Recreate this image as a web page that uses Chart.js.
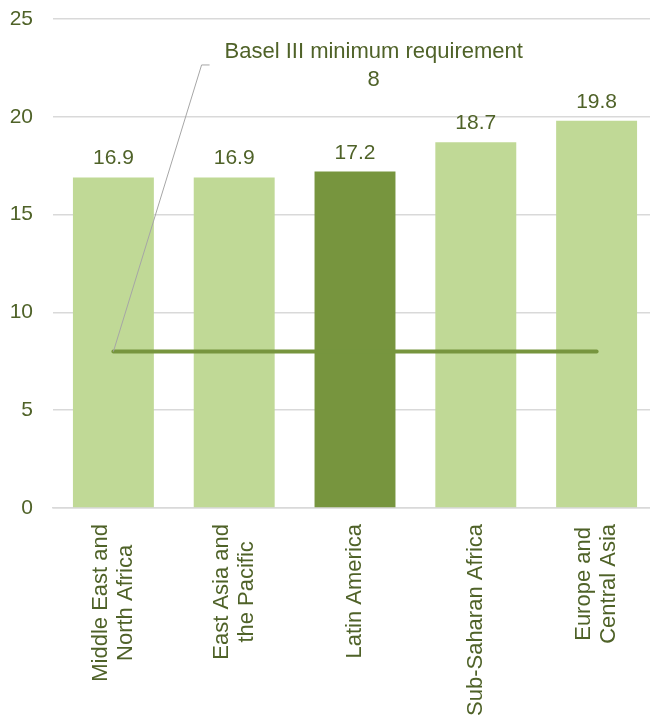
<!DOCTYPE html>
<html>
<head>
<meta charset="utf-8">
<script src="https://cdn.jsdelivr.net/npm/chart.js@4/dist/chart.umd.min.js"></script>
<style>
  html, body { margin: 0; padding: 0; background: #fff; overflow: hidden; }
  #wrap { width: 658px; height: 716px; }
</style>
</head>
<body>
<div id="wrap"><canvas id="chart"></canvas></div>
<script>
const categories = [
  ["Middle East and", "North Africa"],
  ["East Asia and", "the Pacific"],
  ["Latin America"],
  ["Sub-Saharan Africa"],
  ["Europe and", "Central Asia"]
]
const capitalRatios = [16.9, 16.9, 17.2, 18.7, 19.8]
const baselMinimum = [8, 8, 8, 8, 8]
const baselLabel = ["Basel III minimum requirement", "8"]
const highlightIndex = 2

const textColor = "#4f6228"
const lightGreen = "#c0d996"
const darkGreen = "#77953e"
const family = "'Liberation Sans', Arial, sans-serif"

const barLabels = {
  id: "barLabels",
  afterDatasetsDraw(chart) {
    const ctx = chart.ctx
    const meta = chart.getDatasetMeta(1)
    ctx.save()
    ctx.fillStyle = textColor
    ctx.font = `21px ${family}`
    ctx.textAlign = "center"
    ctx.textBaseline = "alphabetic"
    meta.data.forEach((bar, i) => {
      ctx.fillText(capitalRatios[i].toFixed(1), bar.x, bar.y - 13)
    })
    ctx.restore()
  }
}

// rotated category labels, lines centred on each other like the original
const categoryLabels = {
  id: "categoryLabels",
  afterDraw(chart) {
    const ctx = chart.ctx
    const x = chart.scales.x
    const lineHeight = 25
    ctx.save()
    ctx.fillStyle = textColor
    ctx.font = `22px ${family}`
    ctx.textAlign = "center"
    ctx.textBaseline = "middle"
    categories.forEach((lines, i) => {
      const cx = x.getPixelForTick(i)
      const widest = Math.max(...lines.map((l) => ctx.measureText(l).width))
      const top = x.top + 16
      lines.forEach((line, j) => {
        const offset = (j - (lines.length - 1) / 2) * lineHeight
        ctx.save()
        ctx.translate(cx + offset, top + widest / 2)
        ctx.rotate(-Math.PI / 2)
        ctx.fillText(line, 0, 0)
        ctx.restore()
      })
    })
    ctx.restore()
  }
}

const baselCallout = {
  id: "baselCallout",
  afterDatasetsDraw(chart) {
    const ctx = chart.ctx
    const x = chart.scales.x
    const y = chart.scales.y
    const startX = x.getPixelForValue(0)
    const startY = y.getPixelForValue(baselMinimum[0])
    const elbowX = x.getPixelForValue(0.73)
    const elbowY = y.getPixelForValue(22.65)

    ctx.save()
    ctx.strokeStyle = "#a6a6a6"
    ctx.lineWidth = 1
    ctx.beginPath()
    ctx.moveTo(startX, startY)
    ctx.lineTo(elbowX, elbowY)
    ctx.lineTo(elbowX + 8, elbowY)
    ctx.stroke()

    ctx.fillStyle = textColor
    ctx.font = `22px ${family}`
    ctx.textAlign = "center"
    ctx.textBaseline = "middle"
    const textX = x.getPixelForValue(2.155)
    const textY = y.getPixelForValue(23.3)
    ctx.fillText(baselLabel[0], textX, textY)
    ctx.fillText(baselLabel[1], textX, textY + 28)
    ctx.restore()
  }
}

new Chart(document.getElementById("chart"), {
  data: {
    labels: categories,
    datasets: [
      {
        type: "line",
        label: "Basel III minimum requirement",
        data: baselMinimum,
        borderColor: darkGreen,
        borderWidth: 4,
        borderCapStyle: "round",
        pointRadius: 0,
        order: 0
      },
      {
        type: "bar",
        label: "Capital adequacy ratio",
        data: capitalRatios,
        backgroundColor: capitalRatios.map((v, i) => (i === highlightIndex ? darkGreen : lightGreen)),
        categoryPercentage: 1,
        barPercentage: 0.67,
        order: 1
      }
    ]
  },
  options: {
    responsive: true,
    maintainAspectRatio: false,
    animation: false,
    layout: { padding: { top: 19, left: 8, right: 1, bottom: 0 } },
    plugins: {
      legend: { display: false },
      tooltip: { enabled: false }
    },
    scales: {
      x: {
        grid: { display: false, drawTicks: false },
        border: { color: "#d9d9d9", width: 1.5 },
        ticks: { display: false },
        afterFit(scale) {
          scale.height = 208
          scale.paddingLeft = 0
          scale.paddingRight = 0
        }
      },
      y: {
        min: 0,
        max: 25,
        grid: { color: "#d9d9d9", lineWidth: 1.5, drawTicks: false },
        border: { display: false },
        ticks: {
          stepSize: 5,
          color: textColor,
          font: { family, size: 21 },
          padding: 20
        },
        afterFit(scale) {
          scale.width = 45
          scale.paddingTop = 0
          scale.paddingBottom = 0
        }
      }
    }
  },
  plugins: [barLabels, baselCallout, categoryLabels]
})
</script>
</body>
</html>
